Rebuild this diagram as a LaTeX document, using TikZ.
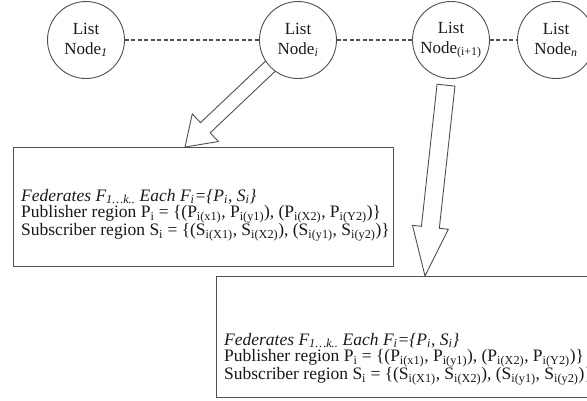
\documentclass[tikz,border=0pt]{standalone}
\usepackage{fontspec}
\setmainfont{Liberation Serif}
\usetikzlibrary{calc}
\definecolor{linec}{HTML}{505050}
\definecolor{textc}{HTML}{1A1A1A}
\newcommand\holarrow[6]{%
  \draw[harrow] (#1)
    -- ($(#1)!#3!(#2)!#4!90:(#2)$)
    -- ($(#1)!#3!(#2)!#5!90:(#2)$)
    -- ($(#1)!#6!(#2)!#5!90:(#2)$)
    -- ($(#1)!#6!(#2)!#5!-90:(#2)$)
    -- ($(#1)!#3!(#2)!#5!-90:(#2)$)
    -- ($(#1)!#3!(#2)!#4!-90:(#2)$)
    -- cycle;}
\begin{document}
\begin{tikzpicture}[x=1pt,y=-1pt,
  lnode/.style={circle, draw=linec, line width=0.9pt, fill=white, minimum size=77pt,
    inner sep=0pt, align=center, text=textc, font=\fontsize{17}{20}\selectfont},
  link/.style={draw=linec, line width=1.2pt, dash pattern=on 4pt off 2.5pt},
  box/.style={draw=linec, line width=0.9pt, fill=white, inner sep=0pt, outer sep=0pt, anchor=north west},
  boxtext/.style={align=left, anchor=west, inner sep=0pt, text=textc, font=\fontsize{17.5}{16.5}\selectfont},
  harrow/.style={draw=linec, line width=0.9pt, fill=white, line join=miter}]
\clip (0,0) rectangle (587,400);
\fill[white] (0,0) rectangle (587,400);
% boxes
\node[box, minimum width=380pt, minimum height=119pt] (b1) at (13,147) {};
\node[box, minimum width=390pt, minimum height=121pt] (b2) at (216,276) {};
\node[boxtext] (t1) at (21,215) {\textit{Federates F\textsubscript{1…k..} Each F\textsubscript{i}=\{P\textsubscript{i}, S\textsubscript{i}\}}\\
Publisher region P\textsubscript{i} = \{(P\textsubscript{i(x1)}, P\textsubscript{i(y1)}), (P\textsubscript{i(X2)}, P\textsubscript{i(Y2)})\}\\
Subscriber region S\textsubscript{i} = \{(S\textsubscript{i(X1)}, S\textsubscript{i(X2)}), (S\textsubscript{i(y1)}, S\textsubscript{i(y2)})\}};
\node[boxtext] (t2) at (224,359) {\textit{Federates F\textsubscript{1…k..} Each F\textsubscript{i}=\{P\textsubscript{i}, S\textsubscript{i}\}}\\
Publisher region P\textsubscript{i} = \{(P\textsubscript{i(x1)}, P\textsubscript{i(y1)}), (P\textsubscript{i(X2)}, P\textsubscript{i(Y2)})\}\\
Subscriber region S\textsubscript{i} = \{(S\textsubscript{i(X1)}, S\textsubscript{i(X2)}), (S\textsubscript{i(y1)}, S\textsubscript{i(y2)})\}};
% list nodes (positions)
\coordinate (c1) at (86,40);
\coordinate (ci) at (298,40);
\coordinate (cj) at (451,40);
\coordinate (cn) at (556,40);
% arrows
\coordinate (tip1) at (185,147);
\coordinate (tip2) at (425,276);
\holarrow{tip1}{ci}{28pt}{19pt}{7pt}{125pt}
\holarrow{tip2}{cj}{49pt}{18pt}{9pt}{192pt}
% circles
\node[lnode] (n1) at (c1) {List\\Node\textsubscript{\textit{1}}};
\node[lnode] (ni) at (ci) {List\\Node\textsubscript{\textit{i}}};
\node[lnode] (nj) at (cj) {List\\Node\textsubscript{(i+1)}};
\node[lnode] (nn) at (cn) {List\\Node\textsubscript{\textit{n}}};
\draw[link] (n1) -- (ni);
\draw[link] (ni) -- (nj);
\draw[link] (nj) -- (nn);
\end{tikzpicture}
\end{document}
